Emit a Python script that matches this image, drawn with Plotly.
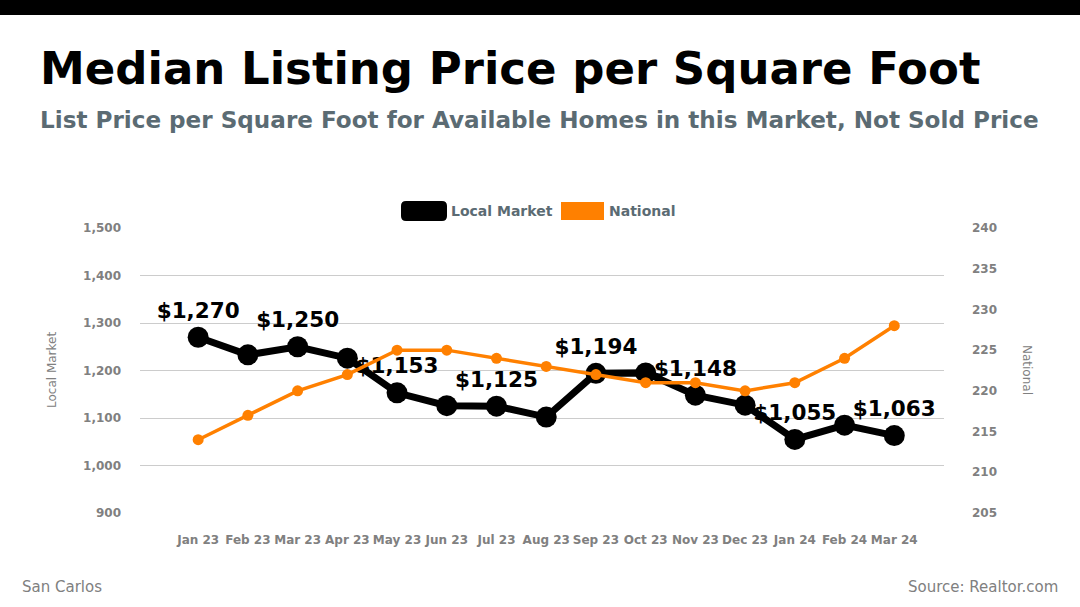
import plotly.graph_objects as go

months = ["Jan 23", "Feb 23", "Mar 23", "Apr 23", "May 23", "Jun 23", "Jul 23", "Aug 23",
          "Sep 23", "Oct 23", "Nov 23", "Dec 23", "Jan 24", "Feb 24", "Mar 24"]
local_market = [1270, 1233, 1250, 1226, 1153, 1126, 1125, 1102, 1194, 1195, 1148, 1127, 1055, 1085, 1063]
national = [214, 217, 220, 222, 225, 225, 224, 223, 222, 221, 221, 220, 221, 224, 228]
label_every = 2

left_ticks = [900, 1000, 1100, 1200, 1300, 1400, 1500]
right_ticks = [205, 210, 215, 220, 225, 230, 235, 240]

W, H = 1080, 607
L, R, T, B = 140, 944, 228, 513
def px(x):
    return (x - L) / (R - L)
def py(y):
    return (B - y) / (B - T)

FONT = "DejaVu Sans"
GRAY = "#808080"
SLATE = "#5b6b73"
ORANGE = "#ff8000"

labels = [f"${v:,}" if i % label_every == 0 else "" for i, v in enumerate(local_market)]

fig = go.Figure()
fig.add_trace(go.Scatter(
    x=months, y=local_market, name="Local Market", mode="lines+markers+text",
    line=dict(color="black", width=7), marker=dict(color="black", size=21),
    text=labels, textposition="top center",
    textfont=dict(family=FONT, size=21.5, color="black", weight="bold"),
    yaxis="y", cliponaxis=False,
))
fig.add_trace(go.Scatter(
    x=months, y=national, name="National", mode="lines+markers",
    line=dict(color=ORANGE, width=3.5), marker=dict(color=ORANGE, size=11),
    yaxis="y2", cliponaxis=False,
))

def rrect(x0, y0, x1, y1, r):
    def P(x, y):
        return f"{px(x):.5f},{py(y):.5f}"
    return (f"M{P(x0+r,y0)} L{P(x1-r,y0)} Q{P(x1,y0)} {P(x1,y0+r)} L{P(x1,y1-r)} "
            f"Q{P(x1,y1)} {P(x1-r,y1)} L{P(x0+r,y1)} Q{P(x0,y1)} {P(x0,y1-r)} "
            f"L{P(x0,y0+r)} Q{P(x0,y0)} {P(x0+r,y0)} Z")

shapes = [
    dict(type="rect", xref="paper", yref="paper", x0=px(0), x1=px(W), y0=py(0), y1=py(15),
         fillcolor="black", line=dict(width=0), layer="above"),
    dict(type="path", xref="paper", yref="paper", path=rrect(401, 201, 447, 221, 5),
         fillcolor="black", line=dict(width=0)),
    dict(type="rect", xref="paper", yref="paper", x0=px(561), x1=px(604), y0=py(202), y1=py(220),
         fillcolor=ORANGE, line=dict(width=0)),
]

annotations = [
    dict(text="Median Listing Price per Square Foot", xref="paper", yref="paper",
         x=px(38), y=py(68), xanchor="left", yanchor="middle", showarrow=False,
         font=dict(family=FONT, size=45, color="black", weight="bold")),
    dict(text="List Price per Square Foot for Available Homes in this Market, Not Sold Price",
         xref="paper", yref="paper", x=px(38), y=py(120), xanchor="left", yanchor="middle",
         showarrow=False, font=dict(family=FONT, size=23.1, color=SLATE, weight="bold")),
    dict(text="Local Market", xref="paper", yref="paper", x=px(449), y=py(211),
         xanchor="left", yanchor="middle", showarrow=False,
         font=dict(family=FONT, size=14, color=SLATE, weight="bold")),
    dict(text="National", xref="paper", yref="paper", x=px(607), y=py(211),
         xanchor="left", yanchor="middle", showarrow=False,
         font=dict(family=FONT, size=14, color=SLATE, weight="bold")),
    dict(text="Local Market", xref="paper", yref="paper", x=px(52), y=py(370),
         xanchor="center", yanchor="middle", textangle=-90, showarrow=False,
         font=dict(family=FONT, size=12, color=GRAY)),
    dict(text="National", xref="paper", yref="paper", x=px(1027), y=py(370),
         xanchor="center", yanchor="middle", textangle=90, showarrow=False,
         font=dict(family=FONT, size=12, color=GRAY)),
    dict(text="San Carlos", xref="paper", yref="paper", x=px(20), y=py(587),
         xanchor="left", yanchor="middle", showarrow=False,
         font=dict(family=FONT, size=15, color=GRAY)),
    dict(text="Source: Realtor.com", xref="paper", yref="paper", x=px(1060), y=py(587),
         xanchor="right", yanchor="middle", showarrow=False,
         font=dict(family=FONT, size=15, color=GRAY)),
]

tickfont = dict(family=FONT, size=12, color=GRAY, weight="bold")

fig.update_layout(
    width=W, height=H,
    margin=dict(l=L, r=W - R, t=T, b=H - B, pad=0),
    paper_bgcolor="white", plot_bgcolor="white",
    showlegend=False,
    shapes=shapes, annotations=annotations,
    xaxis=dict(type="category", range=[-1.17, 15.0], showgrid=False, zeroline=False,
               showline=False, ticks="", tickfont=tickfont, ticklabelstandoff=18,
               tickangle=0),
    yaxis=dict(range=[900, 1500], tickvals=left_ticks, tickformat=",", showgrid=True,
               gridcolor="#cccccc", gridwidth=1, zeroline=False, showline=False,
               ticks="", tickfont=tickfont, ticklabelstandoff=18),
    yaxis2=dict(range=[205, 240], tickvals=right_ticks, overlaying="y", side="right",
                showgrid=False, zeroline=False, showline=False, ticks="",
                tickfont=tickfont, ticklabelstandoff=27),
)

fig.write_html("out.html", config={"displayModeBar": False},
               post_script="document.body.style.margin='0';document.body.style.padding='0';")
